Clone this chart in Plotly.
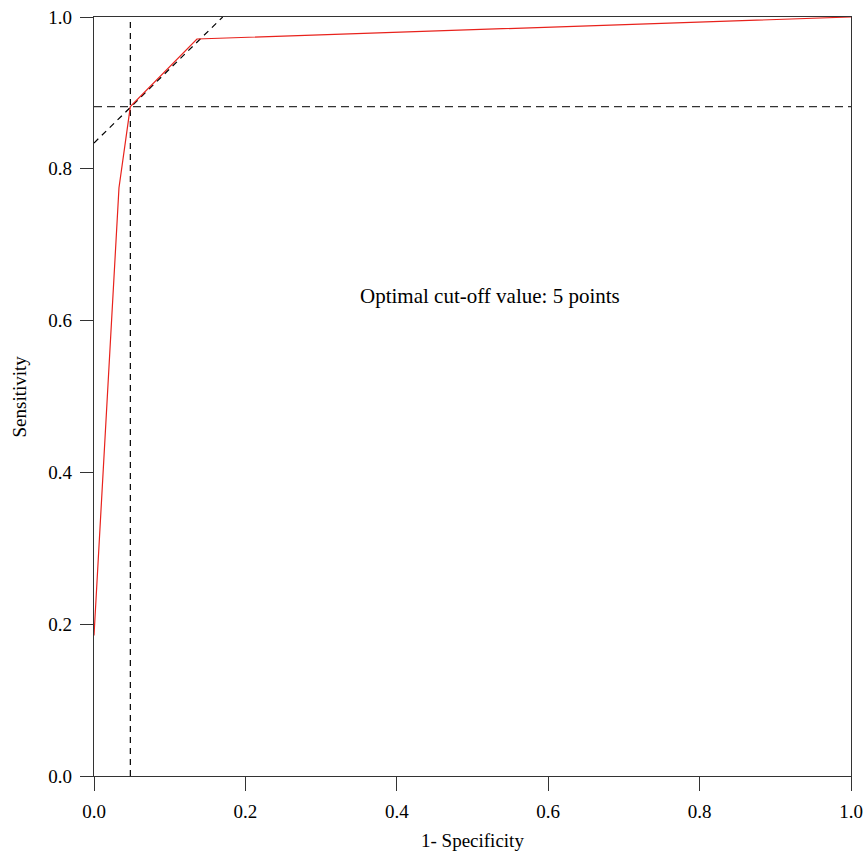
import plotly.graph_objects as go

# ROC curve data
fpr = [0.0, 0.033, 0.048, 0.136, 1.0]
tpr = [0.185, 0.775, 0.882, 0.971, 1.0]

# optimal cut-off point
cut_x = 0.048
cut_y = 0.882
# tangent (Youden) line y = x + intercept
tangent_x = [0.0, 0.170]
tangent_y = [0.834, 1.0]

x_ticks = [0.0, 0.2, 0.4, 0.6, 0.8, 1.0]
y_ticks = [0.0, 0.2, 0.4, 0.6, 0.8, 1.0]
tick_text = ["0.0", "0.2", "0.4", "0.6", "0.8", "1.0"]

x_title = "1- Specificity"
y_title = "Sensitivity"
annotation_text = "Optimal cut-off value: 5 points"

font_family = "Liberation Serif"

fig = go.Figure()

fig.add_trace(go.Scatter(x=[cut_x, cut_x], y=[0, 1], mode="lines",
                         line=dict(color="black", width=1.2, dash="6px,5px"),
                         showlegend=False, hoverinfo="skip"))
fig.add_trace(go.Scatter(x=[0, 1], y=[cut_y, cut_y], mode="lines",
                         line=dict(color="#333333", width=1.2, dash="8px,5px"),
                         showlegend=False, hoverinfo="skip"))
fig.add_trace(go.Scatter(x=tangent_x, y=tangent_y, mode="lines",
                         line=dict(color="black", width=1.2, dash="6px,5px"),
                         showlegend=False, hoverinfo="skip"))
fig.add_trace(go.Scatter(x=fpr, y=tpr, mode="lines",
                         line=dict(color="#e8221c", width=1.2),
                         showlegend=False))

fig.add_annotation(x=0.523, y=0.632, text=annotation_text, showarrow=False,
                   xref="x", yref="y", font=dict(family=font_family, size=21, color="black"))
# axis titles as annotations for exact placement
fig.add_annotation(x=0.5, y=-0.0856, text=x_title, showarrow=False,
                   xref="paper", yref="paper", xanchor="center", yanchor="middle",
                   font=dict(family=font_family, size=19, color="black"))
fig.add_annotation(x=-0.0978, y=0.5, text=y_title, showarrow=False, textangle=-90,
                   xref="paper", yref="paper", xanchor="center", yanchor="middle",
                   font=dict(family=font_family, size=19, color="black"))

fig.update_layout(
    width=865, height=854,
    margin=dict(l=94, r=14, t=17, b=78, autoexpand=False),
    plot_bgcolor="white", paper_bgcolor="white",
    font=dict(family=font_family, size=19, color="black"),
    showlegend=False,
)
fig.update_xaxes(range=[0, 1], tickvals=x_ticks, ticktext=tick_text,
                 showgrid=False, zeroline=False, showline=True, mirror=True,
                 linecolor="#333333", linewidth=1.2, automargin=False,
                 ticks="outside", ticklen=14, tickcolor="#333333", tickwidth=1.2,
                 ticklabelstandoff=4, ticklabeloverflow="allow",
                 tickfont=dict(family=font_family, size=19))
fig.update_yaxes(range=[0, 1], tickvals=y_ticks, ticktext=tick_text,
                 showgrid=False, zeroline=False, showline=True, mirror=True,
                 linecolor="#333333", linewidth=1.2, automargin=False,
                 ticks="outside", ticklen=13, tickcolor="#333333", tickwidth=1.2,
                 ticklabelstandoff=4, ticklabeloverflow="allow",
                 tickfont=dict(family=font_family, size=19))

fig.write_html("out.html",
               config={"displayModeBar": False},
               post_script="document.body.style.margin='0';document.body.style.overflow='hidden';")
